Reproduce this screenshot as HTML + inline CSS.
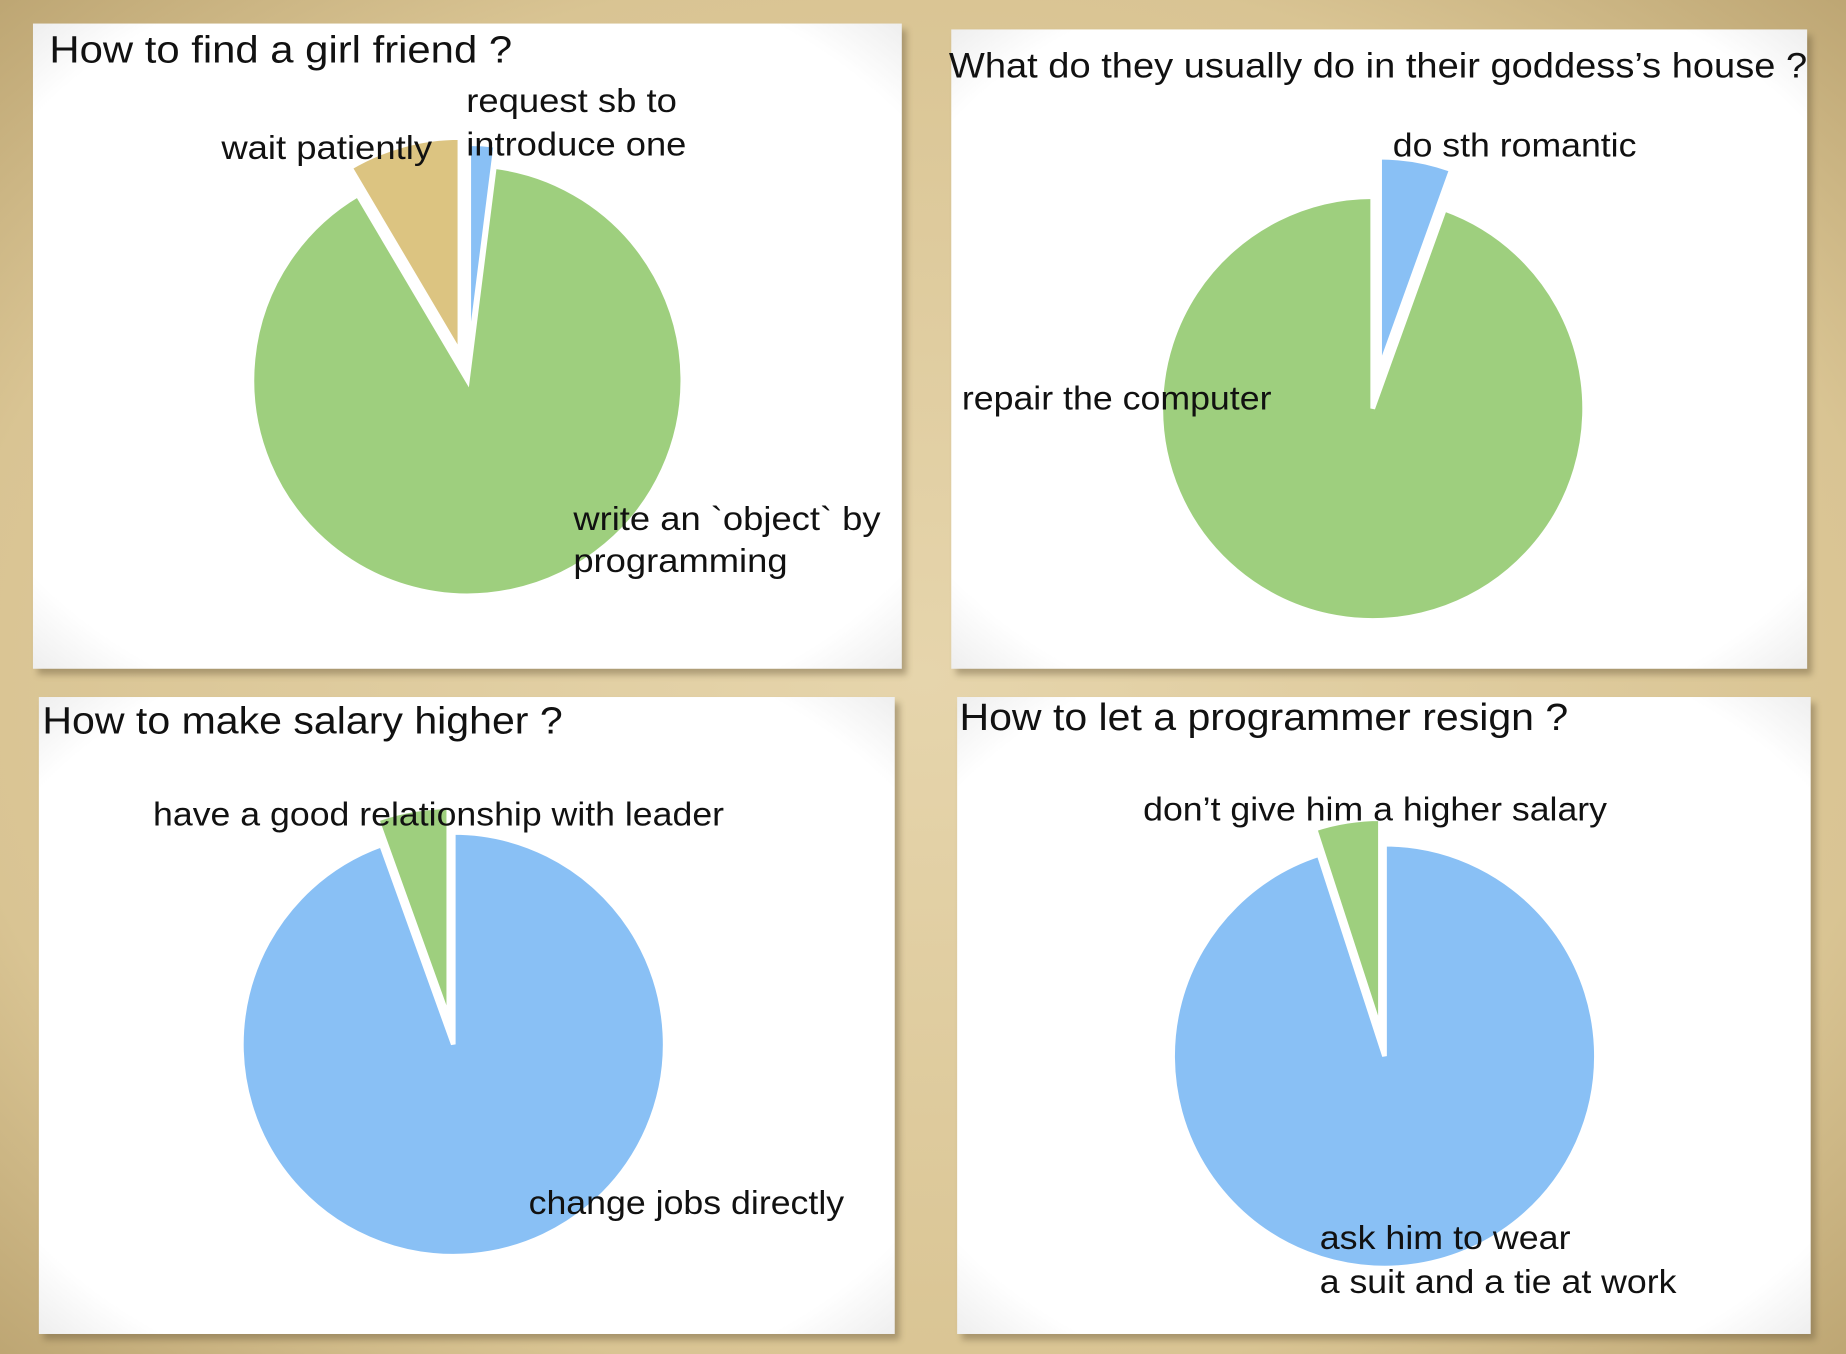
<!DOCTYPE html>
<html><head><meta charset="utf-8"><style>
html,body{margin:0;padding:0;width:1846px;height:1354px;overflow:hidden;background:#d8c495}
svg{display:block}
text{font-family:"Liberation Sans",Arial,sans-serif;fill:#111}
</style></head><body>
<svg id="s" width="1846" height="1354" viewBox="0 0 1568 1150" preserveAspectRatio="none">
<defs>
<radialGradient id="bg" cx="50%" cy="50%" r="75%">
<stop offset="0" stop-color="#e6d5ac"/><stop offset="0.7" stop-color="#d9c493"/><stop offset="1" stop-color="#b79f6c"/>
</radialGradient>
<radialGradient id="paper" cx="50%" cy="50%" r="72%">
<stop offset="0.85" stop-color="#ffffff"/><stop offset="1" stop-color="#ececec"/>
</radialGradient>
<filter id="sh" x="-5%" y="-5%" width="110%" height="110%"><feGaussianBlur stdDeviation="3"/></filter>
</defs>
<rect width="1568" height="1150" fill="url(#bg)"/>
<g id="panels"></g>
<g id="charts"></g>
</svg>
<script>
const NS="http://www.w3.org/2000/svg";
const titles=["How to find a girl friend ?","What do they usually do in their goddess\u2019s house ?","How to make salary higher ?","How to let a programmer resign ?"];
const chart1Labels=["request sb to introduce one","write an `object` by programming","wait patiently"];
const chart1Values=[2,89.5,8.5];
const chart2Labels=["do sth romantic","repair the computer"];
const chart2Values=[5.5,94.5];
const chart3Labels=["change jobs directly","have a good relationship with leader"];
const chart3Values=[94.5,5.5];
const chart4Labels=["ask him to wear a suit and a tie at work","don\u2019t give him a higher salary"];
const chart4Values=[95,5];
const green="#9ecf7e",blue="#89c0f5",tan="#dcc481";
const chart1Colors=[blue,green,tan],chart2Colors=[blue,green],chart3Colors=[blue,green],chart4Colors=[blue,green];
const chart1Explode=[18,0,24],chart2Explode=[34,0],chart3Explode=[0,22],chart4Explode=[0,22];

const svg=document.getElementById('s');
const P=document.getElementById('panels'),C=document.getElementById('charts');
function mk(t,a,p){const e=document.createElementNS(NS,t);for(const k in a)e.setAttribute(k,a[k]);(p||svg).appendChild(e);return e;}

const panelBoxes=[[28,20,738,548],[808,25,727,543],[33,592,727,541],[813,592,725,541]];
panelBoxes.forEach((b,i)=>{
  const sh=mk('rect',{x:b[0]+4,y:b[1]+5,width:b[2],height:b[3],fill:'#6b5a3a',opacity:0.45,filter:'url(#sh)'},P);
  
  
  const r=mk('rect',{x:b[0],y:b[1],width:b[2],height:b[3],fill:'url(#paper)'},P);
  
  
});

function pie(values,colors,explode,cx,cy,r,name){
  const total=values.reduce((a,b)=>a+b,0);
  let a0=0;
  const g=mk('g',{},C);
  
  
  values.forEach((v,i)=>{
    const a1=a0+v/total*360;
    const mid=(a0+a1)/2*Math.PI/180;
    const ox=cx+explode[i]*Math.sin(mid),oy=cy-explode[i]*Math.cos(mid);
    const p=(a)=>{const t=a*Math.PI/180;return [ox+r*Math.sin(t),oy-r*Math.cos(t)];};
    const s=p(a0),e=p(a1);
    const large=(a1-a0)>180?1:0;
    const path=mk('path',{d:`M${ox},${oy} L${s[0]},${s[1]} A${r},${r} 0 ${large} 1 ${e[0]},${e[1]} Z`,fill:colors[i],stroke:'#fff','stroke-width':4},g);
    
    
    a0=a1;
  });
}
pie(chart1Values,chart1Colors,chart1Explode,397,323,183,'pie-girlfriend');
pie(chart2Values,chart2Colors,chart2Explode,1166,347,180,'pie-goddess-house');
pie(chart3Values,chart3Colors,chart3Explode,385,887,180,'pie-salary');
pie(chart4Values,chart4Colors,chart4Explode,1176,897,180,'pie-resign');

function txt(s,x,y,size,w,name){const t=mk('text',{x:x,y:y,'font-size':size,textLength:w,lengthAdjust:'spacingAndGlyphs'});t.textContent=s;return t;}
txt(titles[0],42,53,32,393,'title-girlfriend');
txt(titles[1],806,66,30,729,'title-goddess-house');
txt(titles[2],36,623,32,442,'title-salary');
txt(titles[3],815,620,32,517,'title-resign');
txt("request sb to",396,95,28,179,'label-request');
txt("introduce one",396,132,28,187,'label-request-2');
txt(chart1Labels[2],188,135,28,179,'label-wait');
txt("write an `object` by",487,450,28,261,'label-write-object');
txt("programming",487,486,28,182,'label-write-object-2');
txt(chart2Labels[0],1183,133,28,207,'label-romantic');
txt(chart2Labels[1],817,348,28,263,'label-repair');
txt(chart3Labels[1],130,701,28,485,'label-relationship');
txt(chart3Labels[0],449,1031,28,268,'label-change-jobs');
txt(chart4Labels[1],971,697,28,394,'label-no-salary');
txt("ask him to wear",1121,1061,28,213,'label-suit');
txt("a suit and a tie at work",1121,1098,28,303,'label-suit-2');
</script>
</body></html>
